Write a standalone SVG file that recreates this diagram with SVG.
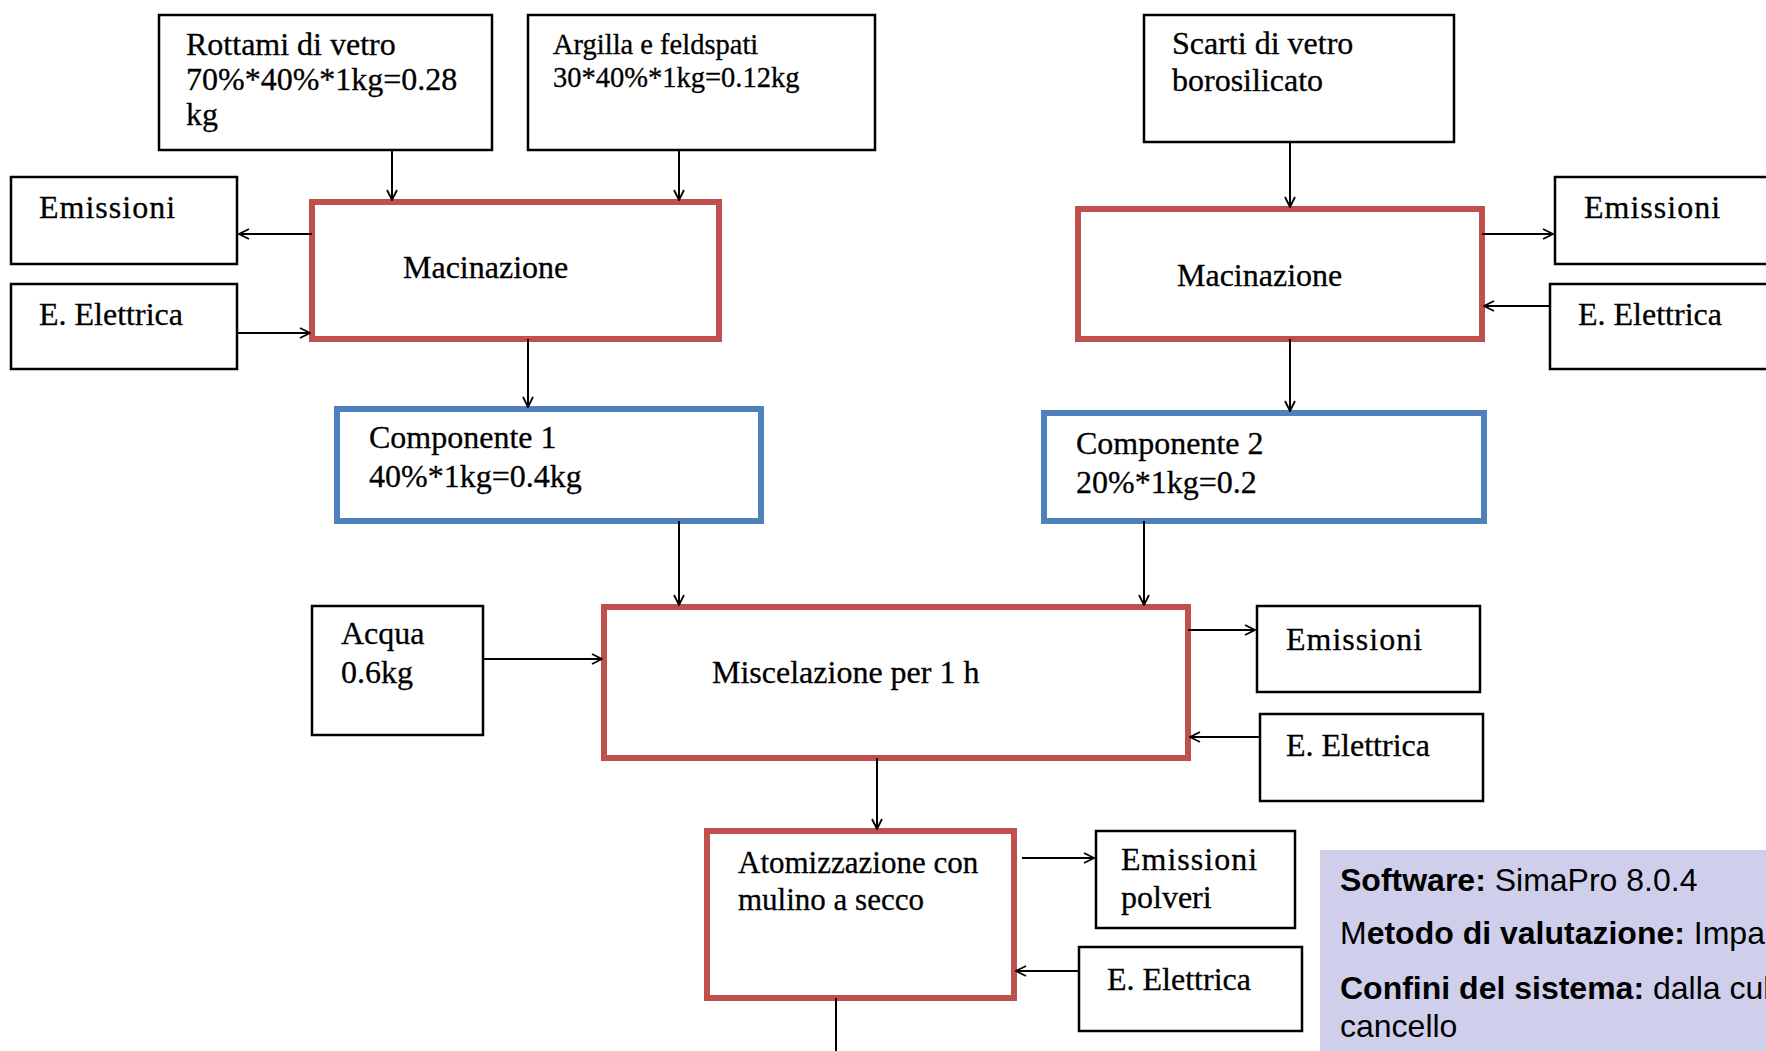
<svg xmlns="http://www.w3.org/2000/svg" width="1766" height="1051" viewBox="0 0 1766 1051">
<defs>
<marker id="arr" viewBox="0 0 12 12" refX="11" refY="6" markerWidth="12" markerHeight="12" markerUnits="userSpaceOnUse" orient="auto">
<path d="M1,1 L11,6 L1,11" fill="none" stroke="#000" stroke-width="1.8"/>
</marker>
<style>
.b{fill:#fff;stroke:#000;stroke-width:2.5}
.r{fill:#fff;stroke:#c0504d;stroke-width:6}
.u{fill:#fff;stroke:#4f81bd;stroke-width:6}
.t{font-family:"Liberation Serif","Times New Roman",serif;font-size:32px;fill:#000;stroke:#000;stroke-width:0.3}
.s{font-family:"Liberation Sans",Arial,sans-serif;font-size:32px;fill:#000}
.c line{stroke:#000;stroke-width:2;marker-end:url(#arr)}
</style>
</defs>
<rect width="1766" height="1051" fill="#fff"/>

<g id="rottami"><rect class="b" x="159" y="15" width="333" height="135"/>
<text class="t" x="186" y="55">Rottami di vetro</text>
<text class="t" x="186" y="90">70%*40%*1kg=0.28</text>
<text class="t" x="186" y="125">kg</text></g>

<g id="argilla"><rect class="b" x="528" y="15" width="347" height="135"/>
<text class="t" x="553" y="54" style="font-size:28.5px">Argilla e feldspati</text>
<text class="t" x="553" y="87" style="font-size:28.5px">30*40%*1kg=0.12kg</text></g>

<g id="scarti"><rect class="b" x="1144" y="15" width="310" height="127"/>
<text class="t" x="1172" y="54">Scarti di vetro</text>
<text class="t" x="1172" y="91">borosilicato</text></g>

<g id="emissioni-l"><rect class="b" x="11" y="177" width="226" height="87"/>
<text class="t" x="39" y="218" letter-spacing="1">Emissioni</text></g>

<g id="elettrica-l"><rect class="b" x="11" y="284" width="226" height="85"/>
<text class="t" x="39" y="325">E. Elettrica</text></g>

<g id="macinazione-l"><rect class="r" x="312" y="202" width="407" height="137"/>
<text class="t" x="403" y="278">Macinazione</text></g>

<g id="macinazione-r"><rect class="r" x="1078" y="209" width="404" height="130"/>
<text class="t" x="1177" y="286">Macinazione</text></g>

<g id="emissioni-r"><rect class="b" x="1555" y="177" width="230" height="87"/>
<text class="t" x="1584" y="218" letter-spacing="1">Emissioni</text></g>

<g id="elettrica-r"><rect class="b" x="1550" y="284" width="235" height="85"/>
<text class="t" x="1578" y="325">E. Elettrica</text></g>

<g id="componente1"><rect class="u" x="337" y="409" width="424" height="112"/>
<text class="t" x="369" y="448">Componente 1</text>
<text class="t" x="369" y="487">40%*1kg=0.4kg</text></g>

<g id="componente2"><rect class="u" x="1044" y="413" width="440" height="108"/>
<text class="t" x="1076" y="454">Componente 2</text>
<text class="t" x="1076" y="493">20%*1kg=0.2</text></g>

<g id="acqua"><rect class="b" x="312" y="606" width="171" height="129"/>
<text class="t" x="341" y="644">Acqua</text>
<text class="t" x="341" y="683">0.6kg</text></g>

<g id="miscelazione"><rect class="r" x="604" y="607" width="584" height="151"/>
<text class="t" x="712" y="683">Miscelazione per 1 h</text></g>

<g id="emissioni-m"><rect class="b" x="1257" y="606" width="223" height="86"/>
<text class="t" x="1286" y="650" letter-spacing="1">Emissioni</text></g>

<g id="elettrica-m"><rect class="b" x="1260" y="714" width="223" height="87"/>
<text class="t" x="1286" y="756">E. Elettrica</text></g>

<g id="atomizzazione"><rect class="r" x="707" y="831" width="307" height="167"/>
<text class="t" x="738" y="873" style="font-size:31px">Atomizzazione con</text>
<text class="t" x="738" y="910" style="font-size:31px">mulino a secco</text></g>

<g id="emissioni-polveri"><rect class="b" x="1096" y="831" width="199" height="97"/>
<text class="t" x="1121" y="870" letter-spacing="1">Emissioni</text>
<text class="t" x="1121" y="908">polveri</text></g>

<g id="elettrica-b"><rect class="b" x="1079" y="947" width="223" height="84"/>
<text class="t" x="1107" y="990">E. Elettrica</text></g>

<g id="info"><rect x="1320" y="850" width="460" height="210" fill="#cfcfec"/>
<text class="s" x="1340" y="891"><tspan font-weight="bold">Software:</tspan> SimaPro 8.0.4</text>
<text class="s" x="1340" y="944">M<tspan font-weight="bold">etodo di valutazione:</tspan> Impa</text>
<text class="s" x="1340" y="999"><tspan font-weight="bold">Confini del sistema:</tspan> dalla cul</text>
<text class="s" x="1340" y="1037">cancello</text></g>

<g id="connectors" class="c">
<line x1="392" y1="150" x2="392" y2="200"/>
<line x1="679" y1="150" x2="679" y2="200"/>
<line x1="312" y1="234" x2="239" y2="234"/>
<line x1="237" y1="333" x2="310" y2="333"/>
<line x1="528" y1="339" x2="528" y2="407"/>
<line x1="1290" y1="142" x2="1290" y2="207"/>
<line x1="1482" y1="234" x2="1553" y2="234"/>
<line x1="1550" y1="306" x2="1484" y2="306"/>
<line x1="1290" y1="339" x2="1290" y2="411"/>
<line x1="679" y1="521" x2="679" y2="605"/>
<line x1="1144" y1="521" x2="1144" y2="605"/>
<line x1="483" y1="659" x2="602" y2="659"/>
<line x1="1188" y1="630" x2="1255" y2="630"/>
<line x1="1260" y1="737" x2="1190" y2="737"/>
<line x1="877" y1="758" x2="877" y2="829"/>
<line x1="1022" y1="858" x2="1094" y2="858"/>
<line x1="1079" y1="971" x2="1016" y2="971"/>
<line x1="836" y1="998" x2="836" y2="1051" style="marker-end:none"/>
</g>
</svg>
